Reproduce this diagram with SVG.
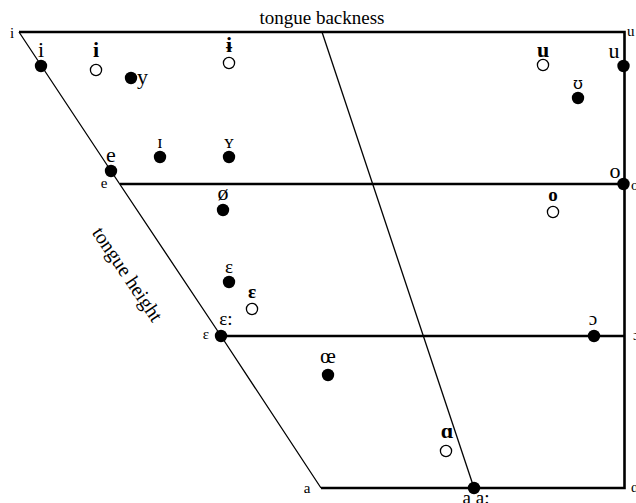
<svg xmlns="http://www.w3.org/2000/svg" width="636" height="503" viewBox="0 0 636 503">
<style>
text{font-family:"Liberation Serif","DejaVu Serif",serif;fill:#000;text-anchor:middle}
.b{font-weight:bold}
.s{font-size:15px}
.m{font-size:19px}
.l{font-size:22px}
.st{text-anchor:start}
.f{fill:#000}
.o{fill:#fff;stroke:#000;stroke-width:1.3}
.thick{stroke:#000;stroke-width:2.6;fill:none}
.thin{stroke:#000;stroke-width:1.3;fill:none}
</style>
<rect width="636" height="503" fill="#fff"/>
<g id="connectors">
<polyline class="thin" points="19,32 111,171 221,336 321,488"/>
<line class="thin" x1="322" y1="32" x2="474" y2="488"/>
<polyline class="thick" points="19,32 624.5,32 624.5,488 321,488"/>
<line class="thick" x1="120" y1="184" x2="624.5" y2="184"/>
<line class="thick" x1="221" y1="336" x2="624.5" y2="336"/>
</g>
<g id="axis-labels">
<text x="322" y="24" style="font-size:19px">tongue backness</text>
<text transform="translate(122,278) rotate(56)" style="font-size:20px">tongue height</text>
</g>
<g id="corners">
<text class="s" x="12" y="38">i</text>
<text class="s st" x="627" y="36">u</text>
<text class="s st" x="631" y="190">o</text>
<text class="s st" x="633" y="340">ɔ</text>
<text class="s st" x="631" y="492">ɑ</text>
<text class="s" x="104" y="188">e</text>
<text class="s" x="206" y="339">ɛ</text>
<text class="s" x="307" y="493">a</text>
</g>
<g id="v-i"><circle class="f" cx="41" cy="66" r="6.2"/><text class="l" x="41" y="57">i</text></g>
<g id="v-i-bold"><circle class="o" cx="96" cy="70" r="5.6"/><text class="l b" x="96" y="57">i</text></g>
<g id="v-y"><circle class="f" cx="131" cy="78" r="6.2"/><text class="l st" x="137" y="84">y</text></g>
<g id="v-barred-i"><circle class="o" cx="229" cy="63" r="5.6"/><text class="l b" x="229" y="52">ɨ</text></g>
<g id="v-u-bold"><circle class="o" cx="543" cy="65" r="5.6"/><text class="l b" x="543" y="57">u</text></g>
<g id="v-u"><circle class="f" cx="623.5" cy="66" r="6.2"/><text class="l" x="614" y="58">u</text></g>
<g id="v-upsilon"><circle class="f" cx="578" cy="98" r="6.2"/><text style="font-family:'DejaVu Serif',serif;font-size:16px" x="578" y="89">ʊ</text></g>
<g id="v-small-i"><circle class="f" cx="160" cy="157" r="6.2"/><text class="m" x="160" y="148">ɪ</text></g>
<g id="v-small-y"><circle class="f" cx="229" cy="157" r="6.2"/><text class="m" x="229" y="148">ʏ</text></g>
<g id="v-e"><circle class="f" cx="111" cy="171" r="6.2"/><text class="l" x="111" y="162">e</text></g>
<g id="v-o"><circle class="f" cx="623.5" cy="184" r="6.2"/><text class="l" x="615" y="178">o</text></g>
<g id="v-slash-o"><circle class="f" cx="223" cy="210" r="6.2"/><text class="l" x="223" y="200">ø</text></g>
<g id="v-o-bold"><circle class="o" cx="553" cy="212" r="5.6"/><text class="m b" x="553" y="201">o</text></g>
<g id="v-epsilon"><circle class="f" cx="229" cy="282" r="6.2"/><text class="m" x="229" y="273">ɛ</text></g>
<g id="v-epsilon-bold"><circle class="o" cx="252" cy="309" r="5.6"/><text class="m b" x="252" y="298">ɛ</text></g>
<g id="v-epsilon-long"><circle class="f" cx="221" cy="336" r="6.2"/><text class="m" x="226" y="325">ɛ:</text></g>
<g id="v-open-o"><circle class="f" cx="594" cy="336" r="6.2"/><text class="m" x="593" y="325">ɔ</text></g>
<g id="v-oe"><circle class="f" cx="328" cy="375" r="6.2"/><text class="l" x="328" y="363">œ</text></g>
<g id="v-alpha-bold"><circle class="o" cx="446" cy="451" r="5.6"/><text class="l b" x="447" y="438">ɑ</text></g>
<g id="v-a"><circle class="f" cx="474" cy="488" r="6.2"/><text class="m" x="476" y="504">a a:</text></g>
</svg>
